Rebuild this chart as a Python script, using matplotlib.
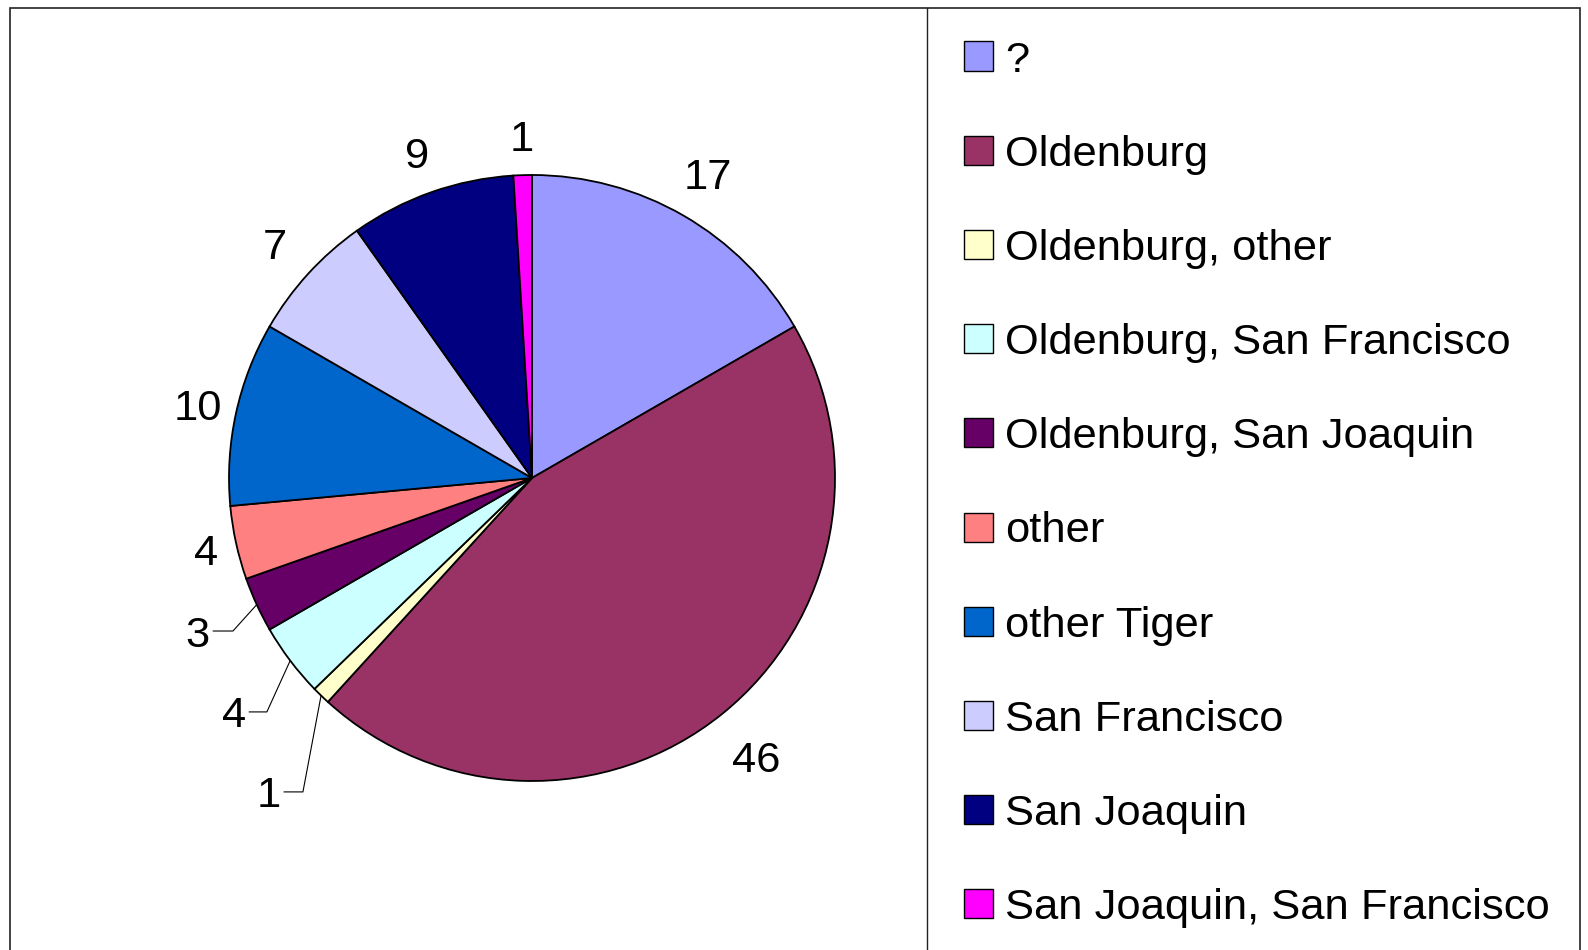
## Pie chart of origin categories with a side legend box

import numpy as np
import matplotlib
matplotlib.use("Agg")
from matplotlib import pyplot as plt
from matplotlib.patches import Rectangle

plt.rcParams['font.family'] = ['Liberation Sans', 'DejaVu Sans']

categories = ["?", "Oldenburg", "Oldenburg, other", "Oldenburg, San Francisco",
              "Oldenburg, San Joaquin", "other", "other Tiger", "San Francisco",
              "San Joaquin", "San Joaquin, San Francisco"]
counts = [17, 46, 1, 4, 3, 4, 10, 7, 9, 1]
colors = ["#9999FF", "#993366", "#FFFFCC", "#CCFFFF", "#660066",
          "#FF8080", "#0066CC", "#CCCCFF", "#000080", "#FF00FF"]

W, H = 1588, 950
FS = 31.3

fig = plt.figure(figsize=(W/100, H/100), dpi=100)

#------------------------------------------------------------------------------
# outer frame + legend divider (pixel coords -> figure fraction)

def px(x, y):
    return x / W, 1 - y / H

fig.patches.append(Rectangle(px(10, 960), (1580-10)/W, (960-8)/H,
                             transform=fig.transFigure, fill=False,
                             edgecolor="#222222", linewidth=1.2))
fig.add_artist(plt.Line2D([927/W, 927/W], [0, 1-8/H], transform=fig.transFigure,
                          color="#222222", linewidth=1.0))

#------------------------------------------------------------------------------
# pie

cx, cy, R = 532, 478, 303
half = 400
ax = fig.add_axes([(cx-half)/W, (H-cy-half)/H, 2*half/W, 2*half/H])

wedges, _ = ax.pie(counts, colors=colors, startangle=90, counterclock=False,
                   wedgeprops=dict(edgecolor="black", linewidth=1.3))

# pie() sets its own limits, override afterwards
lim = half / R
ax.set_xlim(-lim, lim)
ax.set_ylim(-lim, lim)
ax.set_aspect("equal")
ax.axis("off")

# label distance per slice (fraction of radius)
dist = [1.16, 1.18, None, None, None, 1.10, 1.13, 1.15, 1.14, 1.13]
# leader-line labels for small slices: (text right x, y, elbow x)
leaders = {2: (-0.83, -1.036, -0.756),
           3: (-0.945, -0.772, -0.875),
           4: (-1.064, -0.505, -0.987)}

for i, w in enumerate(wedges):
    mid = np.deg2rad((w.theta1 + w.theta2) / 2)
    if i in leaders:
        tx, ty, ex = leaders[i]
        ax.text(tx, ty, str(counts[i]), fontsize=FS, ha="right", va="center_baseline")
        ax.plot([tx + 0.012, ex, np.cos(mid)], [ty, ty, np.sin(mid)],
                color="black", linewidth=0.8)
    else:
        d = dist[i]
        ax.text(d*np.cos(mid), d*np.sin(mid), str(counts[i]), fontsize=FS,
                ha="center", va="center_baseline")

#------------------------------------------------------------------------------
# legend

row0, step = 56, 94.2
for i, (lab, col) in enumerate(zip(categories, colors)):
    yc = row0 + i*step
    fig.patches.append(Rectangle(px(964, yc + 14.5), 28.5/W, 29/H,
                                 transform=fig.transFigure, facecolor=col,
                                 edgecolor="black", linewidth=1.0))
    fig.text(1005/W, 1 - (yc + 15.5)/H, lab, fontsize=FS, ha="left", va="baseline")

fig.savefig("out.png", dpi=100)
